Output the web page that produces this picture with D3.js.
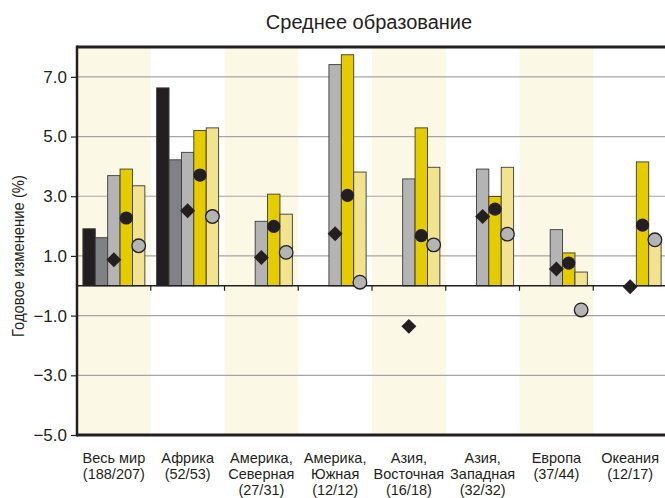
<!DOCTYPE html>
<html><head><meta charset="utf-8">
<script src="https://cdn.jsdelivr.net/npm/d3@7"></script>
<style>body{margin:0;background:#fff}svg{display:block}text{font-family:"Liberation Sans",Arial,sans-serif;fill:#231f20}</style>
</head><body><svg id="c" width="665" height="498"></svg>
<script>
const categories = [["Весь мир","(188/207)"],["Африка","(52/53)"],["Америка,","Северная","(27/31)"],["Америка,","Южная","(12/12)"],["Азия,","Восточная","(16/18)"],["Азия,","Западная","(32/32)"],["Европа","(37/44)"],["Океания","(12/17)"]];
const seriesNames = ["s1","s2","s3","s4","s5"];
const s1 = [1.91, 6.63, null, null, null, null, null, null];
const s2 = [1.61, 4.22, null, null, null, null, null, null];
const s3 = [3.69, 4.47, 2.16, 7.41, 3.58, 3.91, 1.88, null];
const s4 = [3.91, 5.20, 3.07, 7.74, 5.29, 2.99, 1.10, 4.15];
const s5 = [3.35, 5.29, 2.40, 3.81, 3.97, 3.97, 0.46, 1.40];
const diamonds = [0.87, 2.51, 0.95, 1.74, -1.36, 2.32, 0.56, -0.03];
const darkDots = [2.27, 3.71, 1.99, 3.03, 1.68, 2.57, 0.76, 2.03];
const greyDots = [1.34, 2.32, 1.12, 0.12, 1.37, 1.73, -0.81, 1.54];
const yTicks = [7, 5, 3, 1, -1, -3, -5];
const title = "Среднее образование";
const yLabel = "Годовое изменение (%)";

const barColors = ["#231f20","#808184","#b4b4b4","#e5cc00","#f2e38e"];
const series = [s1,s2,s3,s4,s5];
const svg = d3.select("#c");
const L = 77, R = 667, T = 47, B = 435;
const x = d3.scaleBand().domain(d3.range(categories.length)).range([L, R]).padding(0);
const xi = d3.scaleBand().domain(seriesNames).range([0, x.bandwidth()]).paddingInner(0).paddingOuter(0.475);
const y = d3.scaleLinear().domain([-5, 8]).range([B, T]);

// shaded bands
svg.append("g").selectAll("rect").data(d3.range(categories.length).filter(i => i % 2 === 0)).join("rect")
  .attr("x", i => x(i)).attr("y", T).attr("width", x.bandwidth()).attr("height", B - T).attr("fill", "#fcf8e6");

// grid
svg.append("g").selectAll("line").data(yTicks.filter(v => v !== -5)).join("line")
  .attr("x1", L).attr("x2", 665).attr("y1", d => y(d)).attr("y2", d => y(d))
  .attr("stroke", "#a5a5a5").attr("stroke-width", 1.2);

// bars
const gb = svg.append("g");
series.forEach((arr, si) => {
  gb.selectAll(null).data(arr.map((v, i) => ({v, i})).filter(d => d.v !== null)).join("rect")
    .attr("x", d => x(d.i) + xi(seriesNames[si]))
    .attr("width", xi.bandwidth())
    .attr("y", d => y(Math.max(0, d.v)))
    .attr("height", d => Math.abs(y(d.v) - y(0)))
    .attr("fill", barColors[si]).attr("stroke", "#3c3a3a").attr("stroke-width", 0.9);
});

// zero axis
svg.append("line").attr("x1", L).attr("x2", 665).attr("y1", y(0)).attr("y2", y(0)).attr("stroke", "#231f20").attr("stroke-width", 1.4);
svg.append("g").selectAll("line").data(d3.range(1, categories.length)).join("line")
  .attr("x1", i => x(i)).attr("x2", i => x(i)).attr("y1", y(0)).attr("y2", y(0) + 5)
  .attr("stroke", "#231f20").attr("stroke-width", 1.2);

// markers
const cx = (i, s) => x(i) + xi(s) + xi.bandwidth() / 2;
svg.append("g").selectAll("path").data(diamonds.map((v, i) => ({v, i}))).join("path")
  .attr("d", d3.symbol().type(d3.symbolSquare).size(112))
  .attr("transform", d => `translate(${cx(d.i, "s3")},${y(d.v)}) rotate(45)`)
  .attr("fill", "#231f20");
svg.append("g").selectAll("circle").data(darkDots.map((v, i) => ({v, i}))).join("circle")
  .attr("cx", d => cx(d.i, "s4")).attr("cy", d => y(d.v)).attr("r", 6.6).attr("fill", "#231f20");
svg.append("g").selectAll("circle").data(greyDots.map((v, i) => ({v, i}))).join("circle")
  .attr("cx", d => cx(d.i, "s5")).attr("cy", d => y(d.v)).attr("r", 6.8).attr("fill", "#b4b4b4")
  .attr("stroke", "#231f20").attr("stroke-width", 1.3);

// frame
svg.append("line").attr("x1", L).attr("x2", 665).attr("y1", T).attr("y2", T).attr("stroke", "#231f20").attr("stroke-width", 3);
svg.append("line").attr("x1", L).attr("x2", 665).attr("y1", B).attr("y2", B).attr("stroke", "#231f20").attr("stroke-width", 3);

// y axis
const ya = svg.append("g").attr("transform", `translate(${L},0)`)
  .call(d3.axisLeft(y).tickValues(yTicks).tickSize(6).tickPadding(4).tickFormat(d => d3.format(".1f")(d).replace("-", "\u2212")));
ya.select(".domain").attr("stroke", "#231f20").attr("stroke-width", 2.5).attr("d", `M0,${T - 1.5}V${B + 1.5}`);
ya.selectAll(".tick line").attr("stroke", "#231f20").attr("stroke-width", 1.2);
ya.selectAll(".tick text").attr("font-size", 17).attr("font-family", "Liberation Sans, Arial, sans-serif").attr("fill", "#231f20");

// x labels
const xl = svg.append("g");
categories.forEach((lines, i) => {
  const t = xl.append("text").attr("x", x(i) + x.bandwidth() / 2).attr("y", 463).attr("text-anchor", "middle").attr("font-size", 14.5);
  lines.forEach((ln, k) => t.append("tspan").attr("x", x(i) + x.bandwidth() / 2).attr("dy", k === 0 ? 0 : 16).text(ln));
});

svg.append("text").attr("x", 369).attr("y", 29).attr("text-anchor", "middle").attr("font-size", 20).text(title);
svg.append("text").attr("transform", `translate(24,256) rotate(-90)`).attr("text-anchor", "middle").attr("font-size", 17)
  .attr("textLength", 162).attr("lengthAdjust", "spacingAndGlyphs").text(yLabel);
</script></body></html>
